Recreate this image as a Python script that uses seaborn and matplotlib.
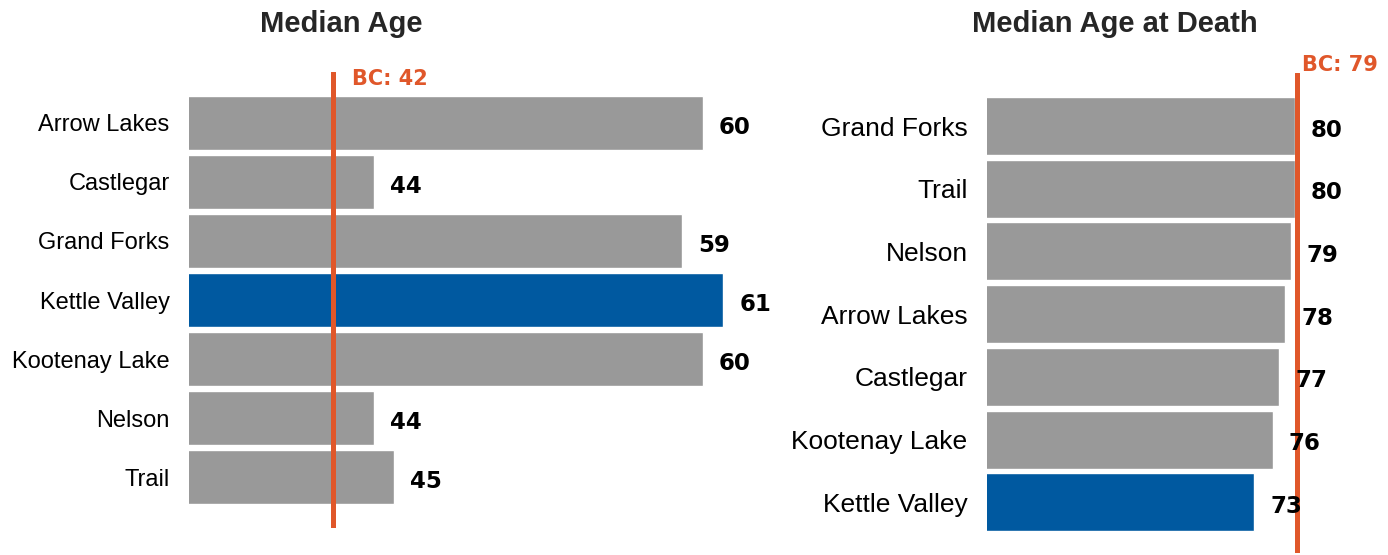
import seaborn as sns
import matplotlib.pyplot as plt

# Dados
regioes_idade = ['Arrow Lakes', 'Castlegar', 'Grand Forks', 'Kettle Valley',
                 'Kootenay Lake', 'Nelson', 'Trail']
idade_mediana = [60, 44, 59, 61, 60, 44, 45]
bc_idade = 42

regioes_morte = ['Grand Forks', 'Trail', 'Nelson', 'Arrow Lakes',
                 'Castlegar', 'Kootenay Lake', 'Kettle Valley']
idade_morte = [80.0, 80.0, 79.3, 78.3, 77.3, 76.2, 73.0]
bc_morte = 79
bc_morte_linha = 80.3  # posicao da linha como aparece no original

CINZA = '#999999'
AZUL = '#0059A0'
LARANJA = '#E0572A'

sns.set_theme(style='white')
plt.rcParams['font.family'] = ['Liberation Sans', 'DejaVu Sans']

fig = plt.figure(figsize=(13.88, 5.55), dpi=100)
W, H = 1388, 555


def eixo(x0, x1, y0, y1):
    return fig.add_axes([x0 / W, (H - y1) / H, (x1 - x0) / W, (y1 - y0) / H])


def painel(ax, cats, vals, larg, fs_cat):
    cores = {c: (AZUL if c == 'Kettle Valley' else CINZA) for c in cats}
    sns.barplot(x=vals, y=cats, hue=cats, palette=cores, orient='h',
                width=larg, legend=False, ax=ax, saturation=1)
    # rotulos de valor, um pouco abaixo do centro da barra como no original
    for i, v in enumerate(vals):
        ax.annotate(f'{round(v)}', xy=(v, i), xytext=(11.5, -3),
                    textcoords='offset points', ha='left', va='center',
                    fontsize=16.5, fontweight='bold', family='DejaVu Sans',
                    color='black')
    sns.despine(ax=ax, left=True, bottom=True)
    ax.set_xticks([])
    ax.set_xlabel('')
    ax.set_ylabel('')
    ax.tick_params(axis='y', length=0, pad=14, labelsize=fs_cat, labelcolor='black')
    for t in ax.get_yticklabels():
        t.set_family('Liberation Sans')


# Painel esquerdo
ax1 = eixo(189, 789, 72, 528)
painel(ax1, regioes_idade, idade_mediana, 0.915, 17)
ax1.set_xlim(35, 64.2)
ax1.set_ylim(6.864, -0.864)
ax1.axvline(bc_idade, color=LARANJA, lw=3.6)
ax1.annotate(f'BC: {bc_idade}', xy=(bc_idade, 1), xycoords=('data', 'axes fraction'),
             xytext=(14, -5), textcoords='offset points', ha='left', va='center',
             color=LARANJA, fontsize=15, fontweight='bold', family='DejaVu Sans')

# Painel direito
ax2 = eixo(987, 1387, 73, 553)
painel(ax2, regioes_morte, idade_morte, 0.925, 19)
ax2.set_xlim(27.4, 95.7)
ax2.set_ylim(6.81, -0.846)
ax2.axvline(bc_morte_linha, color=LARANJA, lw=3.6)
ax2.annotate(f'BC: {bc_morte}', xy=(bc_morte_linha, 1), xycoords=('data', 'axes fraction'),
             xytext=(4, 6), textcoords='offset points', ha='left', va='center',
             color=LARANJA, fontsize=15, fontweight='bold', family='DejaVu Sans')

fig.text(341 / W, 1 - 24 / H, 'Median Age', ha='center', va='center',
         fontsize=21, fontweight='bold', color='#262626')
fig.text(1115 / W, 1 - 24 / H, 'Median Age at Death', ha='center', va='center',
         fontsize=21, fontweight='bold', color='#262626')

fig.savefig('out.png', dpi=100)
